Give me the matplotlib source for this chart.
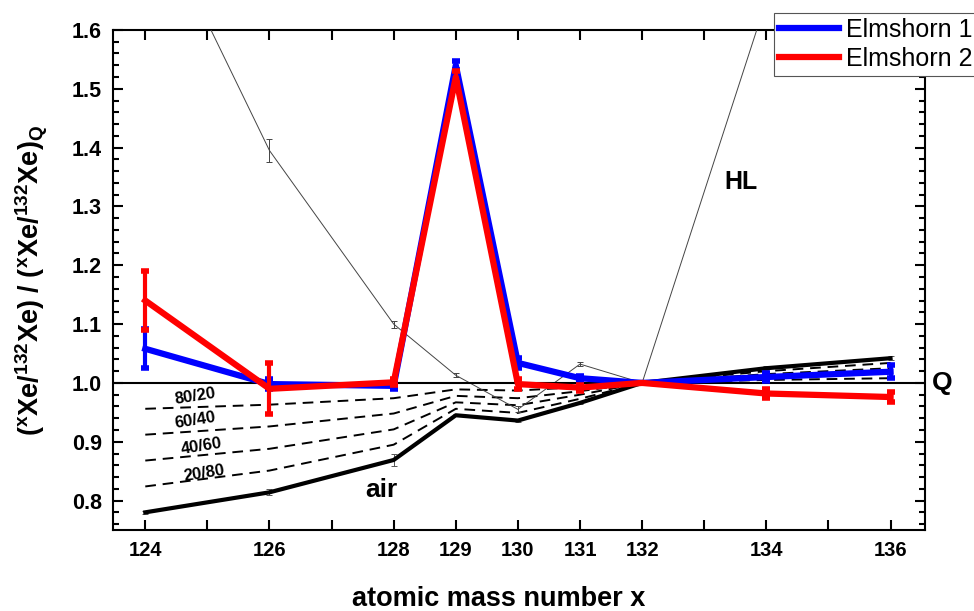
import numpy as np
import matplotlib
matplotlib.use('Agg')
import matplotlib.pyplot as plt
from matplotlib.ticker import MultipleLocator, FixedLocator

plt.rcParams['font.family'] = ['Liberation Sans', 'DejaVu Sans']
plt.rcParams['font.weight'] = 'bold'
plt.rcParams['axes.labelweight'] = 'bold'
plt.rcParams['mathtext.fontset'] = 'custom'
plt.rcParams['mathtext.rm'] = 'Liberation Sans:bold'
plt.rcParams['mathtext.it'] = 'Liberation Sans:bold'
plt.rcParams['mathtext.bf'] = 'Liberation Sans:bold'
plt.rcParams['mathtext.default'] = 'bf'

# mass numbers
mass = [124, 126, 128, 129, 130, 131, 132, 134, 136]
tick_labels = ['124', '126', '128', '129', '130', '131', '132', '134', '136']

# samples
elmshorn1 = [1.058, 0.998, 0.995, 1.540, 1.034, 1.008, 1.000, 1.010, 1.019]
elmshorn1_err = [0.033, 0.009, 0.005, 0.008, 0.008, 0.004, 0.0, 0.006, 0.011]
elmshorn2 = [1.140, 0.990, 1.001, 1.520, 0.998, 0.992, 1.000, 0.982, 0.976]
elmshorn2_err = [0.050, 0.043, 0.005, 0.010, 0.008, 0.005, 0.0, 0.007, 0.009]

# air and mixing lines (Q/air)
air = [0.780, 0.814, 0.869, 0.945, 0.936, 0.966, 1.000, 1.025, 1.042]
air_err = [0.002, 0.005, 0.010, 0.002, 0.003, 0.002, 0.0, 0.003, 0.003]
mix_80_20 = [0.956, 0.963, 0.974, 0.989, 0.987, 0.993, 1.000, 1.005, 1.008]
mix_60_40 = [0.912, 0.926, 0.948, 0.978, 0.974, 0.986, 1.000, 1.010, 1.017]
mix_40_60 = [0.868, 0.888, 0.921, 0.967, 0.962, 0.980, 1.000, 1.015, 1.025]
mix_20_80 = [0.824, 0.851, 0.895, 0.956, 0.949, 0.973, 1.000, 1.020, 1.034]
mix_names = ['80/20', '60/40', '40/60', '20/80']

# HL component
hl_mass = [124, 126, 128, 129, 130, 131, 132, 134]
hl = [1.830, 1.395, 1.100, 1.013, 0.955, 1.032, 1.000, 1.650]
hl_err = [0.0, 0.020, 0.006, 0.003, 0.005, 0.003, 0.0, 0.0]

fig = plt.figure(figsize=(9.74, 6.11), dpi=100)
ax = fig.add_axes([0.116, 0.1326, 0.834, 0.8184])

# mixing lines
for vals in [mix_80_20, mix_60_40, mix_40_60, mix_20_80]:
	ax.plot(mass, vals, color='black', lw=1.4, linestyle=(0, (5.5, 3.5)), zorder=2)

mix_label_pos = [(124.8, 0.978), (124.8, 0.936), (124.9, 0.892), (124.95, 0.847)]
for name, (x, y) in zip(mix_names, mix_label_pos):
	ax.text(x, y, name, fontsize=12, rotation=9, ha='center', va='center', zorder=3)

# air
ax.errorbar(mass, air, yerr=air_err, color='black', lw=3, ecolor='#555555', elinewidth=0.7, capsize=2.5, capthick=0.7, zorder=3)
ax.text(127.8, 0.818, 'air', fontsize=19, ha='center', va='center')

# HL
ax.errorbar(hl_mass, hl, yerr=hl_err, color='#444444', lw=0.7, elinewidth=0.7, capsize=2.5, capthick=0.7, zorder=3)
ax.text(133.6, 1.342, 'HL', fontsize=18, ha='center', va='center')

# Q reference
ax.axhline(1.0, color='black', lw=1.5, zorder=4)
ax.annotate('Q', xy=(1.008, 1.0), xycoords=('axes fraction', 'data'), fontsize=19, ha='left', va='center', annotation_clip=False)

# samples
l1 = ax.errorbar(mass, elmshorn1, yerr=elmshorn1_err, color='blue', lw=4.5, elinewidth=3, capsize=3, capthick=4, zorder=5)
l2 = ax.errorbar(mass, elmshorn2, yerr=elmshorn2_err, color='red', lw=4.5, elinewidth=3, capsize=3, capthick=4, zorder=6)

ax.set_xlim(123.48, 136.56)
ax.set_ylim(0.75, 1.6)

ax.xaxis.set_major_locator(FixedLocator(range(124, 137)))
ax.set_xticklabels(['' if str(m) not in tick_labels else str(m) for m in range(124, 137)])
ax.yaxis.set_major_locator(MultipleLocator(0.1))
ax.yaxis.set_minor_locator(MultipleLocator(0.02))
ax.yaxis.set_major_formatter(plt.FormatStrFormatter('%.1f'))

ax.tick_params(which='both', direction='in', top=True, right=True, width=1.5)
ax.tick_params(axis='x', labelsize=14.5)
ax.tick_params(axis='y', labelsize=15.5)
ax.tick_params(which='major', length=7.5, pad=8)
ax.tick_params(which='minor', length=4)
for lbl in ax.get_xticklabels() + ax.get_yticklabels():
	lbl.set_fontweight('bold')
for s in ax.spines.values():
	s.set_linewidth(1.5)

ax.set_xlabel('atomic mass number x', fontsize=19.5, fontweight='bold')
ax.xaxis.set_label_coords(0.475, -0.113)
ax.set_ylabel('($^{x}$Xe/$^{132}$Xe) / ($^{x}$Xe/$^{132}$Xe)$_{Q}$', fontsize=19.5, fontweight='bold')
ax.yaxis.set_label_coords(-0.077, 0.5)

leg = fig.legend([l1.lines[0], l2.lines[0]], ['Elmshorn 1', 'Elmshorn 2'], loc='upper left',
	bbox_to_anchor=(774 / 974, 1 - 13 / 611), prop={'size': 18, 'weight': 'normal'},
	handlelength=2.4, labelspacing=0.2, borderpad=0.2, borderaxespad=0, handletextpad=0.3,
	fancybox=False, edgecolor='#555555', framealpha=1)
leg.get_frame().set_linewidth(0.8)

fig.savefig('out.png', dpi=100)
